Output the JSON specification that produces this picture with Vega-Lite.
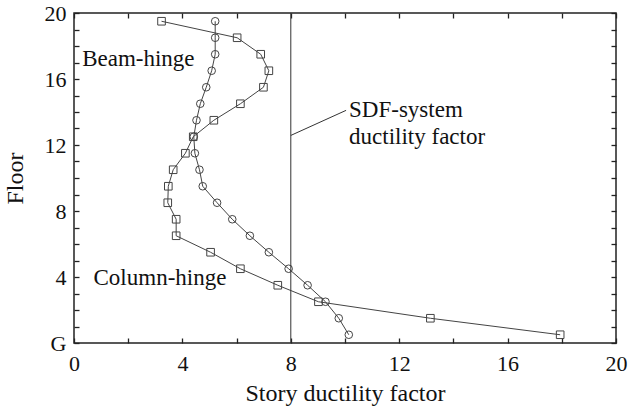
{
  "$schema": "https://vega.github.io/schema/vega-lite/v6.json",
  "width": 542,
  "height": 330,
  "autosize": {"type": "none"},
  "padding": {"left": 74, "top": 13, "right": 15, "bottom": 63},
  "background": "white",
  "config": {
    "view": {"stroke": "#222", "strokeWidth": 1.5},
    "font": "Liberation Serif",
    "axis": {"grid": false, "domain": false, "ticks": true, "tickColor": "#222", "tickOpacity": 1, "tickWidth": 1.3, "tickSize": 5, "offset": -5, "zindex": 1, "labelFont": "Liberation Serif", "titleFont": "Liberation Serif", "labelFontSize": 22, "titleFontSize": 24, "labelColor": "#111", "titleColor": "#111", "titleFontWeight": "normal"}
  },
  "datasets": {
    "curves": [
      {"series": "Beam-hinge", "floor": 0.5, "ductility": 10.14},
      {"series": "Beam-hinge", "floor": 1.5, "ductility": 9.77},
      {"series": "Beam-hinge", "floor": 2.5, "ductility": 9.28},
      {"series": "Beam-hinge", "floor": 3.5, "ductility": 8.62},
      {"series": "Beam-hinge", "floor": 4.5, "ductility": 7.92},
      {"series": "Beam-hinge", "floor": 5.5, "ductility": 7.19},
      {"series": "Beam-hinge", "floor": 6.5, "ductility": 6.49},
      {"series": "Beam-hinge", "floor": 7.5, "ductility": 5.84},
      {"series": "Beam-hinge", "floor": 8.5, "ductility": 5.28},
      {"series": "Beam-hinge", "floor": 9.5, "ductility": 4.75},
      {"series": "Beam-hinge", "floor": 10.5, "ductility": 4.63},
      {"series": "Beam-hinge", "floor": 11.5, "ductility": 4.46},
      {"series": "Beam-hinge", "floor": 12.5, "ductility": 4.42},
      {"series": "Beam-hinge", "floor": 13.5, "ductility": 4.52},
      {"series": "Beam-hinge", "floor": 14.5, "ductility": 4.66},
      {"series": "Beam-hinge", "floor": 15.5, "ductility": 4.88},
      {"series": "Beam-hinge", "floor": 16.5, "ductility": 5.08},
      {"series": "Beam-hinge", "floor": 17.5, "ductility": 5.21},
      {"series": "Beam-hinge", "floor": 18.5, "ductility": 5.21},
      {"series": "Beam-hinge", "floor": 19.5, "ductility": 5.21},
      {"series": "Column-hinge", "floor": 0.5, "ductility": 17.94},
      {"series": "Column-hinge", "floor": 1.5, "ductility": 13.15},
      {"series": "Column-hinge", "floor": 2.5, "ductility": 9.02},
      {"series": "Column-hinge", "floor": 3.5, "ductility": 7.52},
      {"series": "Column-hinge", "floor": 4.5, "ductility": 6.14},
      {"series": "Column-hinge", "floor": 5.5, "ductility": 5.04},
      {"series": "Column-hinge", "floor": 6.5, "ductility": 3.77},
      {"series": "Column-hinge", "floor": 7.5, "ductility": 3.77},
      {"series": "Column-hinge", "floor": 8.5, "ductility": 3.46},
      {"series": "Column-hinge", "floor": 9.5, "ductility": 3.48},
      {"series": "Column-hinge", "floor": 10.5, "ductility": 3.66},
      {"series": "Column-hinge", "floor": 11.5, "ductility": 4.11},
      {"series": "Column-hinge", "floor": 12.5, "ductility": 4.4},
      {"series": "Column-hinge", "floor": 13.5, "ductility": 5.16},
      {"series": "Column-hinge", "floor": 14.5, "ductility": 6.14},
      {"series": "Column-hinge", "floor": 15.5, "ductility": 6.99},
      {"series": "Column-hinge", "floor": 16.5, "ductility": 7.19},
      {"series": "Column-hinge", "floor": 17.5, "ductility": 6.89},
      {"series": "Column-hinge", "floor": 18.5, "ductility": 6.02},
      {"series": "Column-hinge", "floor": 19.5, "ductility": 3.23}
    ],
    "labels": [
      {"text": "Beam-hinge", "x": 0.3, "y": 16.77},
      {"text": "Column-hinge", "x": 0.72, "y": 3.52},
      {"text": "SDF-system", "x": 10.15, "y": 13.7},
      {"text": "ductility factor", "x": 10.15, "y": 12.06}
    ],
    "pointer": [
      {"x": 8, "y": 12.58, "x2": 10.04, "y2": 14.1}
    ],
    "sdf": [
      {"value": 8}
    ]
  },
  "layer": [
    {
      "data": {"name": "curves"},
      "mark": {"type": "line", "color": "#444", "strokeWidth": 1},
      "encoding": {
        "x": {"field": "ductility", "type": "quantitative", "scale": {"domain": [0, 20], "nice": false},
              "axis": {"orient": "bottom", "title": "Story ductility factor", "values": [0,2,4,6,8,10,12,14,16,18,20], "labelExpr": "datum.value % 4 == 0 ? datum.label : ''", "labelPadding": 10, "titlePadding": 7, "labelFlush": false}},
        "y": {"field": "floor", "type": "quantitative", "scale": {"domain": [0, 20], "nice": false},
              "axis": {"orient": "left", "title": "Floor", "values": [0,1,2,3,4,5,6,7,8,9,10,11,12,13,14,15,16,17,18,19,20], "labelExpr": "datum.value == 0 ? 'G' : (datum.value % 4 == 0 ? datum.label : '')", "labelPadding": 8, "titlePadding": 17, "labelFlush": false}},
        "detail": {"field": "series"},
        "order": {"field": "floor", "type": "quantitative"}
      }
    },
    {
      "data": {"name": "curves"},
      "mark": {"type": "point", "filled": false, "color": "#444", "strokeWidth": 1, "size": 58, "opacity": 1},
      "encoding": {
        "x": {"field": "ductility", "type": "quantitative",
              "axis": {"orient": "top", "title": null, "labels": false, "values": [0,2,4,6,8,10,12,14,16,18,20]}},
        "y": {"field": "floor", "type": "quantitative",
              "axis": {"orient": "right", "title": null, "labels": false, "values": [0,1,2,3,4,5,6,7,8,9,10,11,12,13,14,15,16,17,18,19,20]}},
        "shape": {"field": "series", "type": "nominal", "scale": {"domain": ["Beam-hinge", "Column-hinge"], "range": ["circle", "square"]}, "legend": null}
      }
    },
    {
      "data": {"name": "sdf"},
      "mark": {"type": "rule", "color": "#333", "strokeWidth": 1},
      "encoding": {"x": {"field": "value", "type": "quantitative", "axis": null}}
    },
    {
      "data": {"name": "pointer"},
      "mark": {"type": "rule", "color": "#333", "strokeWidth": 1},
      "encoding": {
        "x": {"field": "x", "type": "quantitative", "axis": null},
        "y": {"field": "y", "type": "quantitative", "axis": null},
        "x2": {"field": "x2"},
        "y2": {"field": "y2"}
      }
    },
    {
      "data": {"name": "labels"},
      "mark": {"type": "text", "align": "left", "baseline": "alphabetic", "fontSize": 23, "color": "#111"},
      "encoding": {
        "x": {"field": "x", "type": "quantitative", "axis": null},
        "y": {"field": "y", "type": "quantitative", "axis": null},
        "text": {"field": "text"}
      }
    }
  ],
  "resolve": {"axis": {"x": "independent", "y": "independent"}}
}
